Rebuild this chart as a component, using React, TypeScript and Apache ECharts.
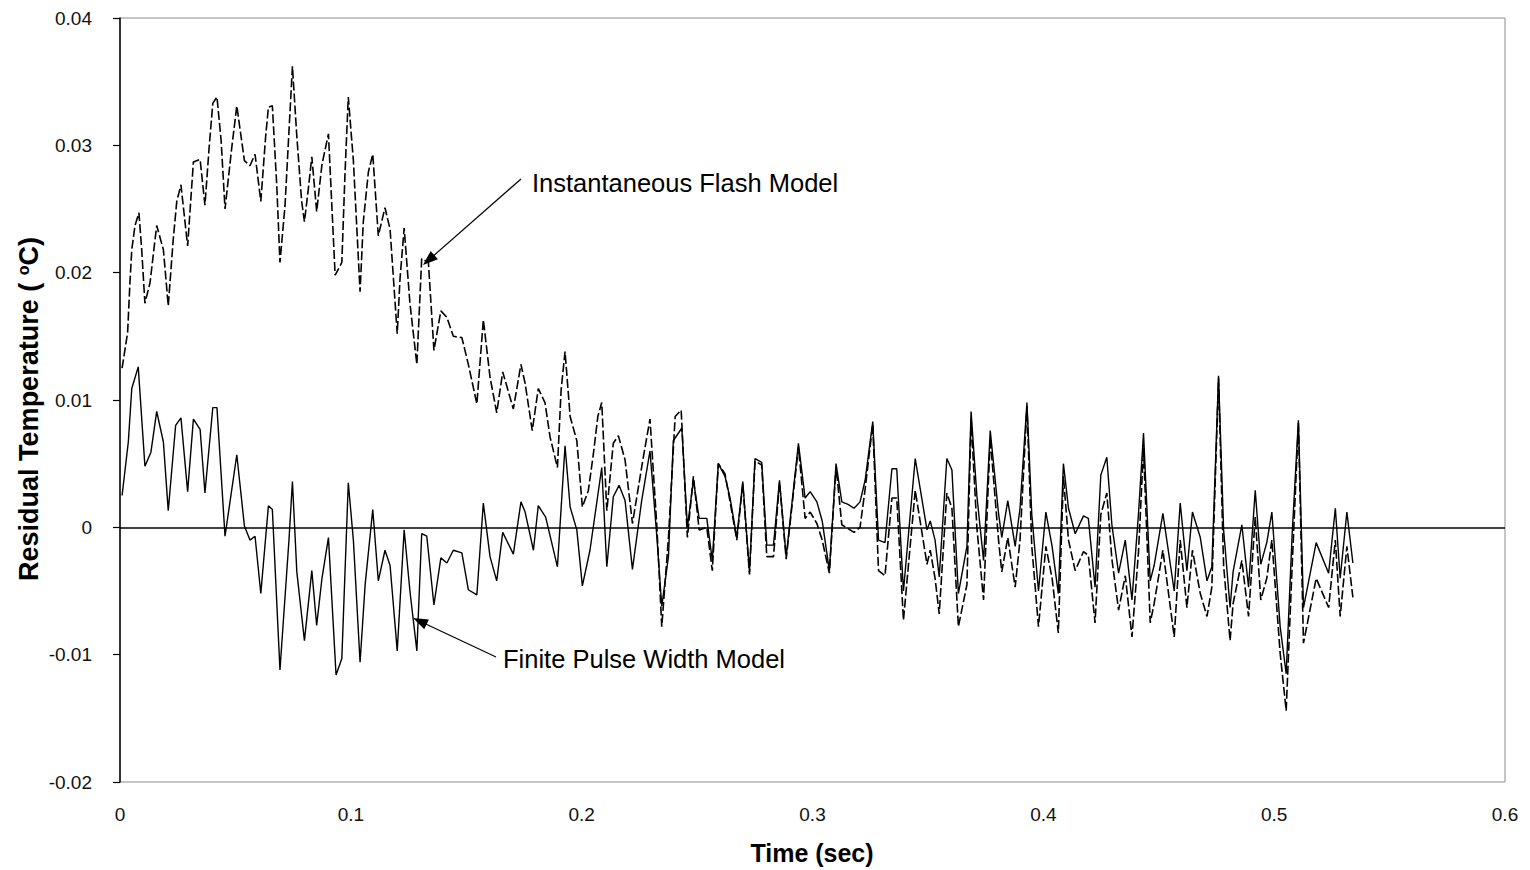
import { useEffect, useRef } from "react";
import * as echarts from "echarts";

// [time (s), residual (°C)] vertices
const instantaneousFlash: [number, number][] = [
  [0.0009,0.0125],[0.0033,0.0153],[0.0043,0.0192],[0.0051,0.0218],[0.0065,0.0237],[0.0082,0.0247],[0.0094,0.0218],[0.0108,0.0176],[0.0130,0.0192],[0.0159,0.0237],
  [0.0188,0.0218],[0.0209,0.0174],[0.0231,0.0227],[0.0246,0.0256],[0.0264,0.0269],[0.0293,0.0221],[0.0318,0.0287],[0.0347,0.0289],[0.0368,0.0253],[0.0386,0.0298],
  [0.0402,0.0333],[0.0420,0.0338],[0.0438,0.0304],[0.0455,0.0250],[0.0484,0.0298],[0.0506,0.0331],[0.0539,0.0288],[0.0563,0.0284],[0.0585,0.0293],[0.0610,0.0256],
  [0.0631,0.0307],[0.0643,0.0330],[0.0660,0.0331],[0.0679,0.0269],[0.0693,0.0208],[0.0715,0.0253],[0.0732,0.0311],[0.0747,0.0362],[0.0766,0.0307],[0.0787,0.0256],
  [0.0799,0.0240],[0.0816,0.0266],[0.0831,0.0291],[0.0852,0.0248],[0.0875,0.0285],[0.0903,0.0309],[0.0932,0.0198],[0.0961,0.0208],[0.0975,0.0279],[0.0989,0.0338],
  [0.1011,0.0288],[0.1040,0.0185],[0.1054,0.0240],[0.1076,0.0279],[0.1095,0.0293],[0.1119,0.0229],[0.1148,0.0251],[0.1170,0.0234],[0.1201,0.0152],[0.1213,0.0195],
  [0.1231,0.0235],[0.1256,0.0176],[0.1286,0.0128],[0.1307,0.0211],[0.1336,0.0208],[0.1360,0.0139],[0.1390,0.0170],[0.1416,0.0165],[0.1444,0.0150],[0.1481,0.0149],
  [0.1509,0.0128],[0.1546,0.0097],[0.1574,0.0163],[0.1603,0.0118],[0.1632,0.0090],[0.1658,0.0122],[0.1704,0.0093],[0.1737,0.0128],[0.1755,0.0113],[0.1786,0.0076],
  [0.1812,0.0109],[0.1841,0.0098],[0.1863,0.0071],[0.1895,0.0047],[0.1911,0.0108],[0.1928,0.0138],[0.1950,0.0087],[0.1979,0.0068],[0.2003,0.0016],[0.2029,0.0029],
  [0.2051,0.0058],[0.2070,0.0087],[0.2087,0.0098],[0.2109,0.0013],[0.2137,0.0066],[0.2159,0.0072],[0.2188,0.0053],[0.2220,0.0003],[0.2267,0.0055],[0.2296,0.0085],
  [0.2326,0.0000],[0.2347,-0.0078],[0.2376,-0.0008],[0.2405,0.0087],[0.2431,0.0092],[0.2458,-0.0008],[0.2484,0.0040],[0.2509,-0.0002],[0.2542,0.0000],[0.2566,-0.0034],
  [0.2592,0.0050],[0.2621,0.0042],[0.2643,0.0020],[0.2672,-0.0010],[0.2698,0.0034],[0.2727,-0.0037],[0.2751,0.0052],[0.2780,0.0049],[0.2802,-0.0023],[0.2831,-0.0023],
  [0.2857,0.0035],[0.2886,-0.0025],[0.2939,0.0063],[0.2968,0.0007],[0.2990,0.0012],[0.3019,0.0003],[0.3042,-0.0010],[0.3073,-0.0036],[0.3102,0.0048],[0.3127,0.0002],
  [0.3154,-0.0001],[0.3180,-0.0004],[0.3206,0.0000],[0.3228,0.0030],[0.3261,0.0081],[0.3286,-0.0034],[0.3314,-0.0038],[0.3344,0.0023],[0.3365,0.0023],[0.3394,-0.0073],
  [0.3445,0.0029],[0.3496,-0.0029],[0.3510,-0.0018],[0.3531,-0.0040],[0.3549,-0.0068],[0.3582,0.0027],[0.3604,0.0015],[0.3632,-0.0078],[0.3669,-0.0045],[0.3687,0.0085],
  [0.3712,0.0000],[0.3741,-0.0057],[0.3770,0.0070],[0.3806,-0.0010],[0.3820,-0.0035],[0.3846,-0.0008],[0.3878,-0.0047],[0.3899,-0.0010],[0.3929,0.0095],[0.3950,-0.0015],
  [0.3979,-0.0078],[0.4011,-0.0015],[0.4038,-0.0040],[0.4065,-0.0083],[0.4087,0.0040],[0.4109,-0.0010],[0.4138,-0.0034],[0.4174,-0.0019],[0.4195,-0.0022],[0.4224,-0.0075],
  [0.4249,0.0010],[0.4275,0.0027],[0.4297,-0.0025],[0.4326,-0.0065],[0.4355,-0.0038],[0.4384,-0.0086],[0.4412,-0.0020],[0.4434,0.0062],[0.4463,-0.0075],[0.4480,-0.0060],
  [0.4518,-0.0018],[0.4567,-0.0086],[0.4593,-0.0010],[0.4622,-0.0063],[0.4646,-0.0018],[0.4680,-0.0052],[0.4709,-0.0070],[0.4730,-0.0047],[0.4759,0.0117],[0.4781,-0.0030],
  [0.4809,-0.0089],[0.4822,-0.0060],[0.4860,-0.0026],[0.4889,-0.0070],[0.4918,0.0008],[0.4942,-0.0057],[0.4968,-0.0040],[0.4990,-0.0010],[0.5026,-0.0099],[0.5052,-0.0144],
  [0.5078,-0.0030],[0.5105,0.0082],[0.5127,-0.0091],[0.5182,-0.0040],[0.5236,-0.0063],[0.5265,-0.0010],[0.5286,-0.0070],[0.5315,-0.0015],[0.5341,-0.0055],
];

const finitePulseWidth: [number, number][] = [
  [0.0009,0.0025],[0.0036,0.0067],[0.0051,0.0109],[0.0079,0.0126],[0.0108,0.0048],[0.0134,0.0059],[0.0159,0.0091],[0.0188,0.0067],[0.0209,0.0013],[0.0241,0.0080],
  [0.0264,0.0086],[0.0293,0.0028],[0.0318,0.0085],[0.0347,0.0077],[0.0368,0.0027],[0.0402,0.0094],[0.0420,0.0094],[0.0455,-0.0007],[0.0506,0.0057],[0.0539,0.0001],
  [0.0563,-0.0010],[0.0585,-0.0007],[0.0610,-0.0052],[0.0643,0.0017],[0.0660,0.0014],[0.0693,-0.0112],[0.0732,-0.0010],[0.0747,0.0036],[0.0766,-0.0035],[0.0799,-0.0089],
  [0.0831,-0.0034],[0.0852,-0.0077],[0.0875,-0.0040],[0.0903,-0.0008],[0.0936,-0.0116],[0.0961,-0.0103],[0.0989,0.0035],[0.1011,-0.0010],[0.1040,-0.0106],[0.1062,-0.0045],
  [0.1095,0.0014],[0.1119,-0.0042],[0.1148,-0.0018],[0.1170,-0.0030],[0.1201,-0.0097],[0.1231,-0.0002],[0.1256,-0.0050],[0.1286,-0.0097],[0.1307,-0.0005],[0.1329,-0.0007],
  [0.1360,-0.0061],[0.1390,-0.0024],[0.1416,-0.0028],[0.1444,-0.0018],[0.1481,-0.0020],[0.1509,-0.0049],[0.1546,-0.0053],[0.1574,0.0019],[0.1603,-0.0023],[0.1632,-0.0042],
  [0.1658,-0.0004],[0.1704,-0.0021],[0.1737,0.0020],[0.1755,0.0012],[0.1791,-0.0018],[0.1812,0.0017],[0.1844,0.0008],[0.1895,-0.0031],[0.1928,0.0064],[0.1950,0.0016],
  [0.1979,-0.0002],[0.2003,-0.0046],[0.2036,-0.0018],[0.2087,0.0047],[0.2109,-0.0031],[0.2137,0.0024],[0.2162,0.0033],[0.2188,0.0021],[0.2220,-0.0033],[0.2260,0.0021],
  [0.2296,0.0060],[0.2326,-0.0008],[0.2347,-0.0062],[0.2376,-0.0023],[0.2397,0.0068],[0.2434,0.0078],[0.2458,0.0000],[0.2484,0.0037],[0.2509,0.0007],[0.2542,0.0007],
  [0.2566,-0.0026],[0.2592,0.0050],[0.2621,0.0040],[0.2643,0.0023],[0.2672,-0.0008],[0.2698,0.0036],[0.2727,-0.0035],[0.2751,0.0054],[0.2780,0.0051],[0.2802,-0.0014],
  [0.2831,-0.0014],[0.2857,0.0037],[0.2886,-0.0023],[0.2939,0.0066],[0.2968,0.0023],[0.2990,0.0028],[0.3019,0.0020],[0.3042,0.0005],[0.3073,-0.0034],[0.3102,0.0050],
  [0.3127,0.0020],[0.3154,0.0018],[0.3180,0.0015],[0.3206,0.0020],[0.3228,0.0037],[0.3261,0.0083],[0.3286,-0.0010],[0.3314,-0.0012],[0.3344,0.0046],[0.3365,0.0046],
  [0.3394,-0.0050],[0.3445,0.0054],[0.3496,-0.0002],[0.3510,0.0005],[0.3531,-0.0010],[0.3549,-0.0039],[0.3582,0.0054],[0.3604,0.0045],[0.3632,-0.0052],[0.3669,-0.0015],
  [0.3687,0.0091],[0.3712,0.0025],[0.3741,-0.0026],[0.3770,0.0076],[0.3806,0.0011],[0.3820,-0.0008],[0.3846,0.0021],[0.3878,-0.0015],[0.3899,0.0015],[0.3929,0.0098],
  [0.3950,0.0010],[0.3979,-0.0050],[0.4011,0.0012],[0.4038,-0.0015],[0.4065,-0.0052],[0.4087,0.0050],[0.4109,0.0015],[0.4138,-0.0005],[0.4174,0.0009],[0.4195,0.0007],
  [0.4224,-0.0047],[0.4249,0.0041],[0.4275,0.0055],[0.4297,0.0002],[0.4326,-0.0036],[0.4355,-0.0010],[0.4384,-0.0057],[0.4412,0.0010],[0.4434,0.0074],[0.4463,-0.0042],
  [0.4480,-0.0030],[0.4518,0.0011],[0.4567,-0.0050],[0.4593,0.0019],[0.4622,-0.0034],[0.4646,0.0012],[0.4680,-0.0008],[0.4709,-0.0042],[0.4730,-0.0031],[0.4759,0.0119],
  [0.4781,-0.0002],[0.4809,-0.0063],[0.4822,-0.0035],[0.4860,0.0002],[0.4889,-0.0047],[0.4918,0.0029],[0.4942,-0.0029],[0.4968,-0.0012],[0.4990,0.0012],[0.5026,-0.0078],
  [0.5052,-0.0115],[0.5078,-0.0005],[0.5105,0.0084],[0.5127,-0.0063],[0.5182,-0.0012],[0.5236,-0.0036],[0.5265,0.0015],[0.5286,-0.0040],[0.5315,0.0012],[0.5341,-0.0028],
];

const xAxisRange = { min: 0, max: 0.6, interval: 0.1 };
const yAxisRange = { min: -0.02, max: 0.04, interval: 0.01 };

const FONT = '"Liberation Sans", Arial, Helvetica, sans-serif';

function arrow(x1: number, y1: number, x2: number, y2: number) {
  const dx = x2 - x1;
  const dy = y2 - y1;
  const len = Math.hypot(dx, dy);
  const ux = dx / len;
  const uy = dy / len;
  const headL = 15;
  const headW = 5.5;
  const bx = x2 - ux * headL;
  const by = y2 - uy * headL;
  const nx = -uy;
  const ny = ux;
  return [
    {
      type: "line",
      silent: true,
      shape: { x1, y1, x2: bx + ux * 2, y2: by + uy * 2 },
      style: { stroke: "#000", lineWidth: 1.2 },
    },
    {
      type: "polygon",
      silent: true,
      shape: {
        points: [
          [x2, y2],
          [bx + nx * headW, by + ny * headW],
          [bx - nx * headW, by - ny * headW],
        ],
      },
      style: { fill: "#000" },
    },
  ];
}

export default function App() {
  const ref = useRef<HTMLDivElement>(null);

  useEffect(() => {
    if (!ref.current) return;
    const chart = echarts.init(ref.current, null, { renderer: "svg" });
    chart.setOption({
      animation: false,
      backgroundColor: "#ffffff",
      grid: {
        left: 120,
        right: 25,
        top: 18,
        bottom: 88,
        show: true,
        borderColor: "#8c8c8c",
        borderWidth: 1,
        containLabel: false,
      },
      xAxis: {
        type: "value",
        ...xAxisRange,
        axisLine: { show: false },
        axisTick: { show: false },
        splitLine: { show: false },
        axisLabel: { color: "#111", fontFamily: FONT, fontSize: 19, margin: 23 },
      },
      yAxis: {
        type: "value",
        ...yAxisRange,
        axisLine: { show: true, lineStyle: { color: "#000", width: 1.5 } },
        axisTick: { show: true, length: 7, lineStyle: { color: "#000", width: 1.2 } },
        splitLine: { show: false },
        axisLabel: { color: "#111", fontFamily: FONT, fontSize: 19, margin: 28 },
      },
      series: [
        {
          name: "Instantaneous Flash Model",
          type: "line",
          data: instantaneousFlash,
          showSymbol: false,
          symbol: "none",
          lineStyle: { color: "#000", width: 1.6, type: [9, 3] },
          z: 3,
        },
        {
          name: "Finite Pulse Width Model",
          type: "line",
          data: finitePulseWidth,
          showSymbol: false,
          symbol: "none",
          lineStyle: { color: "#000", width: 1.4 },
          z: 4,
          markLine: {
            silent: true,
            symbol: "none",
            label: { show: false },
            lineStyle: { color: "#000", width: 1.5, type: "solid" },
            data: [{ yAxis: 0 }],
          },
        },
      ],
      graphic: [
        {
          type: "text",
          x: 29,
          y: 409,
          rotation: Math.PI / 2,
          silent: true,
          style: {
            text: "Residual Temperature ( {sup|o}C)",
            fontFamily: FONT,
            fontSize: 27,
            fontWeight: "bold",
            fill: "#000",
            align: "center",
            verticalAlign: "middle",
            rich: {
              sup: { fontSize: 16, fontWeight: "bold", fontFamily: FONT, verticalAlign: "top", fill: "#000" },
            },
          },
        },
        {
          type: "text",
          x: 812,
          y: 853,
          silent: true,
          style: {
            text: "Time (sec)",
            fontFamily: FONT,
            fontSize: 25,
            fontWeight: "bold",
            fill: "#000",
            align: "center",
            verticalAlign: "middle",
          },
        },
        {
          type: "text",
          x: 532,
          y: 183,
          silent: true,
          style: {
            text: "Instantaneous Flash Model",
            fontFamily: FONT,
            fontSize: 25.5,
            fill: "#000",
            align: "left",
            verticalAlign: "middle",
          },
        },
        {
          type: "text",
          x: 503,
          y: 659,
          silent: true,
          style: {
            text: "Finite Pulse Width Model",
            fontFamily: FONT,
            fontSize: 25.5,
            fill: "#000",
            align: "left",
            verticalAlign: "middle",
          },
        },
        ...arrow(521, 179, 423, 265),
        ...arrow(496, 657, 413, 618),
      ],
    });
    return () => chart.dispose();
  }, []);

  return (
    <div
      ref={ref}
      style={{ position: "fixed", left: 0, top: 0, width: 1530, height: 870, background: "#fff" }}
    />
  );
}
